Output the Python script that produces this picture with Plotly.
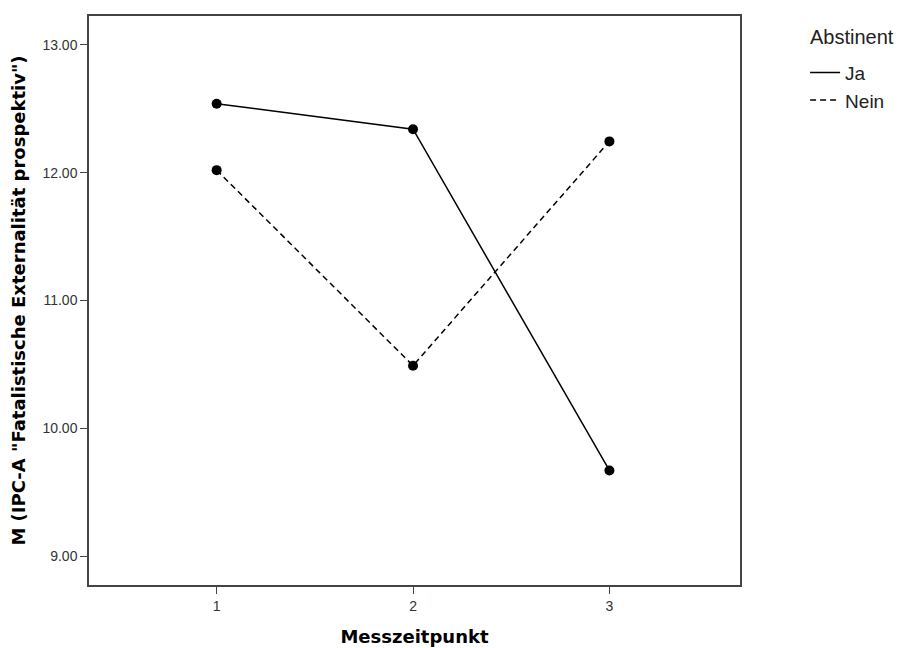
import plotly.graph_objects as go

messzeitpunkt = [1, 2, 3]
ja_values = [12.54, 12.34, 9.67]
nein_values = [12.02, 10.49, 12.245]
y_ticks = [9, 10, 11, 12, 13]
y_tick_labels = ["9.00", "10.00", "11.00", "12.00", "13.00"]

fig = go.Figure()
fig.add_trace(go.Scatter(x=messzeitpunkt, y=ja_values, mode="lines+markers",
                         line=dict(color="black", width=1.5, dash="solid"),
                         marker=dict(color="black", size=10), showlegend=False))
fig.add_trace(go.Scatter(x=messzeitpunkt, y=nein_values, mode="lines+markers",
                         line=dict(color="black", width=1.5, dash="6px,4px"),
                         marker=dict(color="black", size=10), showlegend=False))
# legend-only entries (lines only)
fig.add_trace(go.Scatter(x=[None], y=[None], mode="lines", name="Ja",
                         line=dict(color="black", width=1.5, dash="solid")))
fig.add_trace(go.Scatter(x=[None], y=[None], mode="lines", name="Nein",
                         line=dict(color="black", width=1.5, dash="6px,4px")))

axis_common = dict(showgrid=False, zeroline=False, showline=True, mirror=True,
                   linecolor="#444", linewidth=1.5, ticks="outside", ticklen=7,
                   tickcolor="#444", tickfont=dict(family="Liberation Sans", size=14, color="#333"))

title_font = dict(family="DejaVu Sans", size=18, color="black")

fig.update_layout(
    width=906, height=648,
    margin=dict(l=81, r=174, t=6, b=71),
    paper_bgcolor="white", plot_bgcolor="white",
    xaxis=dict(range=[0.35, 3.665], tickvals=messzeitpunkt, ticktext=["1", "2", "3"],
               title=dict(text="<b>Messzeitpunkt</b>", font=title_font, standoff=18),
               **axis_common),
    yaxis=dict(range=[8.774, 13.226], tickvals=y_ticks, ticktext=y_tick_labels,
               title=dict(text="<b>M (IPC-A \"Fatalistische Externalität prospektiv\")</b>",
                          font=title_font, standoff=12),
               **axis_common),
    legend=dict(x=1.1, y=0.934, xanchor="left", yanchor="top",
                font=dict(family="Liberation Sans", size=19, color="#222"),
                bgcolor="rgba(0,0,0,0)", tracegroupgap=0, itemwidth=30),
    annotations=[dict(text="Abstinent", xref="paper", yref="paper", x=1.105, y=0.963,
                      xanchor="left", yanchor="middle", showarrow=False,
                      font=dict(family="Liberation Sans", size=20, color="#222"))],
)

fig.write_html("out.html")
